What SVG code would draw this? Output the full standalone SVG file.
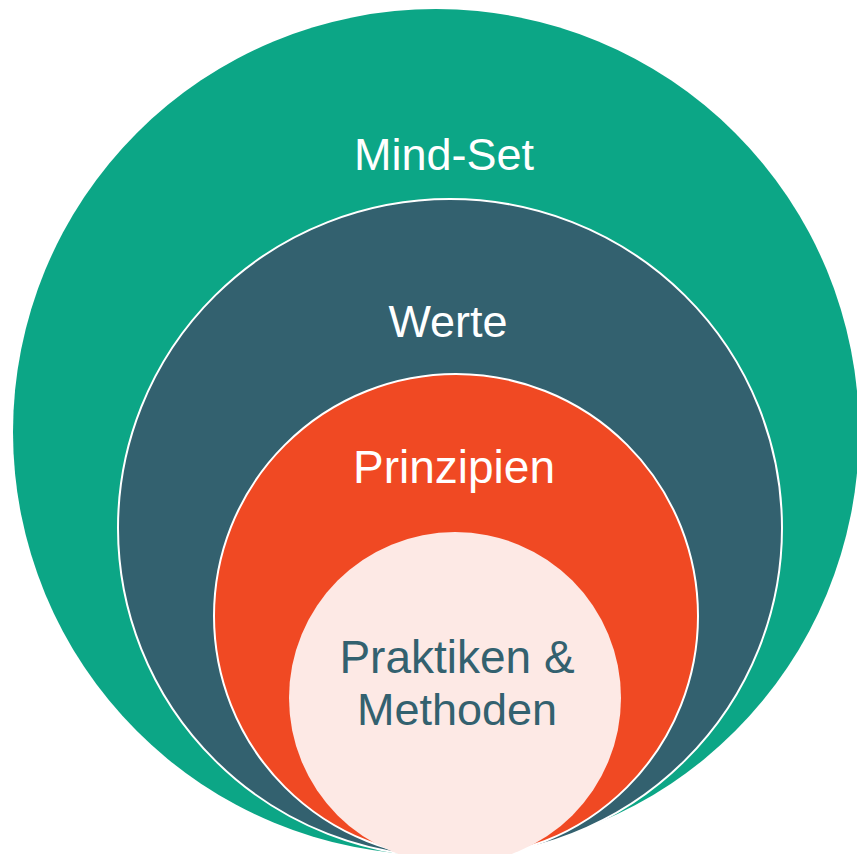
<svg xmlns="http://www.w3.org/2000/svg" width="857" height="854" viewBox="0 0 857 854">
<style>
.lbl{font-family:"Liberation Sans",Arial,sans-serif;font-size:45px;text-anchor:middle}
.w{fill:#ffffff}
.d{fill:#33616f}
.ring{stroke:#ffffff;stroke-width:2}
</style>
<rect width="857" height="854" fill="#ffffff"/>
<g id="mindset">
<circle cx="436" cy="432" r="423" fill="#0ca686"/>
<text class="lbl w" x="444" y="170">Mind-Set</text>
</g>
<g id="werte">
<ellipse class="ring" cx="450" cy="528" rx="332" ry="329" fill="#33616f"/>
<text class="lbl w" x="448" y="337">Werte</text>
</g>
<g id="prinzipien">
<circle class="ring" cx="456" cy="616" r="242" fill="#f04923"/>
<text class="lbl w" x="454" y="483" style="font-size:46px">Prinzipien</text>
</g>
<g id="praktiken">
<circle cx="455" cy="698" r="166" fill="#fde9e5"/>
<text class="lbl d" x="457" y="673" style="font-size:46px">Praktiken &amp;</text>
<text class="lbl d" x="457" y="725">Methoden</text>
</g>
<g id="connectors"></g>
</svg>
